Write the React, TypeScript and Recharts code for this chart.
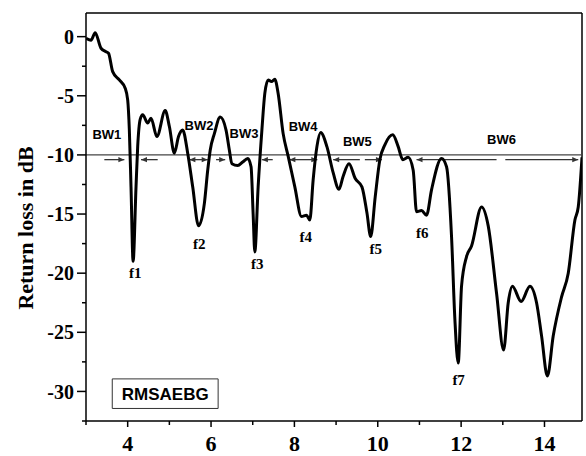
import React from 'react';
import { LineChart, Line, XAxis, YAxis, ReferenceLine, ReferenceDot, ReferenceArea } from 'recharts';

// Frequency in GHz
const freq = [
  3.00, 3.12, 3.22, 3.36, 3.48, 3.54, 3.64, 3.80, 3.94, 4.00,
  4.04, 4.08, 4.13, 4.20, 4.24, 4.30, 4.36, 4.48, 4.56, 4.70,
  4.90, 5.00, 5.12, 5.22, 5.32, 5.44, 5.56, 5.70, 5.84, 5.92,
  5.98, 6.08, 6.22, 6.36, 6.44, 6.50, 6.64, 6.76, 6.88, 6.96,
  7.01, 7.05, 7.13, 7.22, 7.29, 7.37, 7.45, 7.53, 7.61, 7.73,
  7.85, 8.01, 8.17, 8.29, 8.37, 8.45, 8.54, 8.63, 8.78, 8.93,
  9.07, 9.17, 9.31, 9.46, 9.62, 9.74, 9.83, 9.94, 10.05, 10.17,
  10.36, 10.49, 10.60, 10.73, 10.85, 10.93, 11.05, 11.17, 11.29, 11.53,
  11.65, 11.77, 11.85, 11.93, 12.01, 12.13, 12.25, 12.49, 12.65, 12.85,
  13.02, 13.13, 13.23, 13.44, 13.65, 13.81, 13.93, 14.07, 14.21, 14.41,
  14.57, 14.73, 14.81, 14.90,
];

// Return loss in dB
const returnLoss = [
  -0.15, -0.30, 0.34, -0.98, -1.27, -1.40, -2.96, -3.66, -4.36, -5.35,
  -7.9, -12.7, -19.0, -12.7, -9.3, -7.0, -6.6, -7.3, -6.9, -8.45,
  -6.25, -7.6, -9.85, -8.45, -7.9, -9.85, -12.7, -16.0, -14.1, -11.3,
  -9.6, -8.2, -6.8, -7.9, -9.6, -10.75, -10.9, -10.6, -10.3, -11.0,
  -15.0, -18.2, -12.7, -7.9, -4.8, -3.66, -3.8, -3.6, -4.8, -8.2,
  -10.1, -12.7, -15.2, -15.1, -15.5, -12.1, -9.3, -8.1, -9.3, -11.5,
  -12.9, -11.8, -10.75, -12.0, -12.7, -14.9, -16.9, -13.5, -10.4, -9.15,
  -8.3, -9.3, -10.4, -10.2, -11.3, -14.8, -14.7, -15.1, -12.95, -10.3,
  -11.0, -16.9, -23.9, -27.6, -21.1, -18.6, -17.7, -14.4, -16.0, -21.7,
  -26.5, -22.5, -21.1, -22.4, -21.1, -22.5, -25.3, -28.7, -25.3, -22.0,
  -20.0, -15.5, -14.4, -10.2,
];

const xTicks = [3, 4, 5, 6, 7, 8, 9, 10, 11, 12, 13, 14];
const yTicks = [-32.5, -30, -27.5, -25, -22.5, -20, -17.5, -15, -12.5, -10, -7.5, -5, -2.5, 0];

// Bandwidth labels
const bwNames = ['BW1', 'BW2', 'BW3', 'BW4', 'BW5', 'BW6'];
const bwX = [3.5, 5.71, 6.79, 8.21, 9.51, 12.97];
const bwY = [-8.3, -7.5, -8.16, -7.6, -8.87, -8.72];

// Resonance labels
const fNames = ['f1', 'f2', 'f3', 'f4', 'f5', 'f6', 'f7'];
const fX = [4.18, 5.72, 7.11, 8.27, 9.95, 11.07, 11.94];
const fY = [-20.0, -17.5, -19.2, -16.9, -17.9, -16.6, -29.0];

// Bandwidth arrows: tail x, head x, double-headed?
const arrowFrom = [3.44, 4.72, 5.48, 6.12, 7.48, 7.88, 9.57, 9.69, 12.85, 13.06];
const arrowTo = [3.92, 4.32, 5.92, 6.34, 7.22, 8.55, 8.93, 10.1, 10.93, 14.81];
const arrowBoth = [false, false, true, false, false, true, false, false, false, false];
const arrowLevel = -10.4;

const data = freq.map((f, i) => ({ f, rl: returnLoss[i] }));

const XTick = (props: any) => {
  const { x, y, payload } = props;
  const major = payload.value % 2 === 0;
  return (
    <g>
      <line x1={x} y1={y} x2={x} y2={y + (major ? 6 : 4)} stroke="#000" strokeWidth={1.5} />
      {major && (
        <text x={x} y={y + 14.5} dy="0.71em" textAnchor="middle" fontFamily="'Liberation Serif', serif" fontWeight="bold" fontSize={22} fill="#000">
          {payload.value}
        </text>
      )}
    </g>
  );
};

const YTick = (props: any) => {
  const { x, y, payload } = props;
  const major = payload.value % 5 === 0;
  return (
    <g>
      <line x1={x} y1={y} x2={x - (major ? 9 : 4)} y2={y} stroke="#000" strokeWidth={1.5} />
      {major && (
        <text x={x - 12} y={y} dy="0.355em" textAnchor="end" fontFamily="'Liberation Serif', serif" fontWeight="bold" fontSize={20} fill="#000">
          {payload.value}
        </text>
      )}
    </g>
  );
};

const makeArrow = (both: boolean) => (props: any) => {
  const { x1, y1, x2, y2 } = props;
  const dir = x2 > x1 ? 1 : -1;
  const L = 6;
  const W = 2.6;
  const c = '#333';
  return (
    <g>
      <line x1={x1} y1={y1} x2={x2} y2={y2} stroke={c} strokeWidth={1.3} />
      <polygon points={`${x2},${y2} ${x2 - dir * L},${y2 - W} ${x2 - dir * L},${y2 + W}`} fill={c} />
      {both && (
        <polygon points={`${x1},${y1} ${x1 + dir * L},${y1 - W} ${x1 + dir * L},${y1 + W}`} fill={c} />
      )}
    </g>
  );
};

const textShape = (label: string, font: string, size: number) => (props: any) => (
  <text x={props.cx} y={props.cy} dy="0.35em" textAnchor="middle" fontFamily={font} fontWeight="bold" fontSize={size} fill="#000">
    {label}
  </text>
);

export default function App() {
  return (
    <div style={{ position: 'fixed', left: 0, top: 0, width: 586, height: 456, background: '#fff' }}>
      <LineChart width={586} height={456} data={data} margin={{ top: 13, right: 4, left: 0, bottom: 0 }}>
        <XAxis
          dataKey="f"
          type="number"
          domain={[3, 14.9]}
          allowDataOverflow
          ticks={xTicks}
          interval={0}
          height={35}
          tickSize={0}
          tickMargin={0}
          tickLine={false}
          tick={<XTick />}
          axisLine={{ stroke: '#000', strokeWidth: 1.5 }}
        />
        <YAxis
          type="number"
          domain={[-32.5, 2]}
          allowDataOverflow
          ticks={yTicks}
          interval={0}
          width={86}
          tickSize={0}
          tickMargin={0}
          tickLine={false}
          tick={<YTick />}
          axisLine={{ stroke: '#000', strokeWidth: 1.5 }}
          label={() => (
            <text x={33} y={228} transform="rotate(-90 33 228)" textAnchor="middle" fontFamily="'Liberation Serif', serif" fontWeight="bold" fontSize={22} fill="#000">
              Return loss in dB
            </text>
          )}
        />
        <ReferenceLine y={2} stroke="#000" strokeWidth={1.5} />
        <ReferenceLine x={14.9} stroke="#000" strokeWidth={1.5} />
        <ReferenceLine y={-10} stroke="#444" strokeWidth={1.3} />
        {arrowFrom.map((a, i) => (
          <ReferenceLine
            key={'arr' + i}
            segment={[{ x: a, y: arrowLevel }, { x: arrowTo[i], y: arrowLevel }]}
            shape={makeArrow(arrowBoth[i])}
          />
        ))}
        <ReferenceArea
          x1={3.63}
          x2={6.17}
          y1={-31.44}
          y2={-28.94}
          fill="#fff"
          fillOpacity={1}
          stroke="#333"
          strokeWidth={1}
          label={{ value: 'RMSAEBG', position: 'center', fontFamily: "'Liberation Sans', Arial, sans-serif", fontWeight: 'bold', fontSize: 17, fill: '#000' }}
        />
        <Line dataKey="rl" type="monotone" stroke="#000" strokeWidth={3} dot={false} isAnimationActive={false} />
        {bwNames.map((n, i) => (
          <ReferenceDot key={n} x={bwX[i]} y={bwY[i]} r={0} shape={textShape(n, "'Liberation Sans', Arial, sans-serif", 13)} />
        ))}
        {fNames.map((n, i) => (
          <ReferenceDot key={n} x={fX[i]} y={fY[i]} r={0} shape={textShape(n, "'Liberation Serif', serif", 15)} />
        ))}
      </LineChart>
    </div>
  );
}
